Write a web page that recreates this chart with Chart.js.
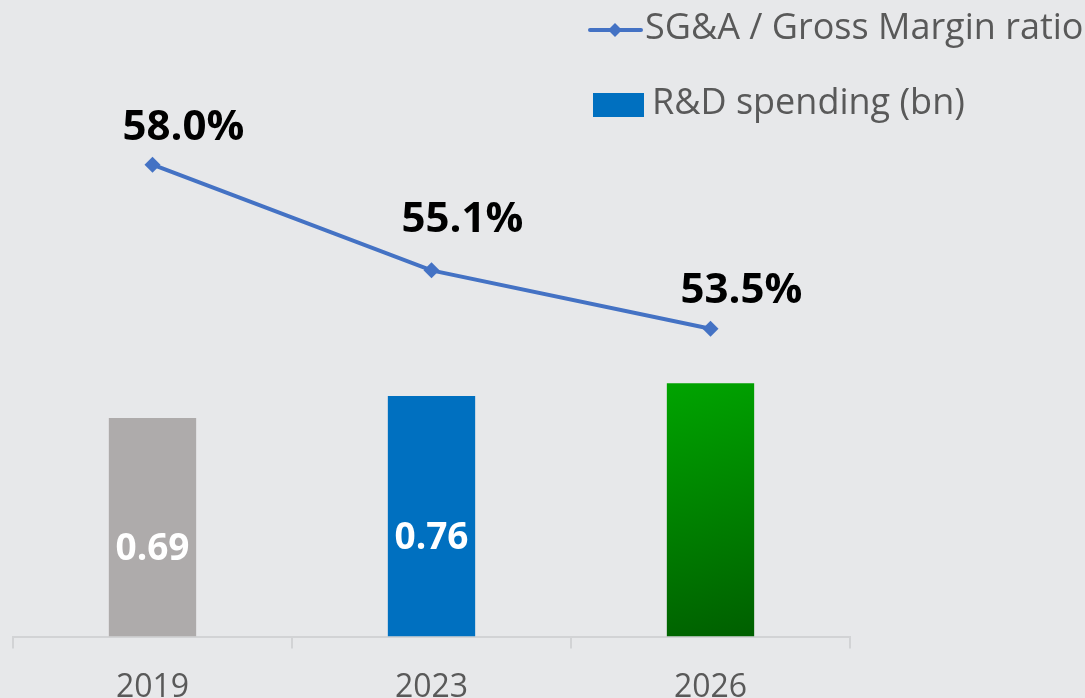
<!DOCTYPE html>
<html>
<head>
<meta charset="utf-8">
<script src="https://cdn.jsdelivr.net/npm/chart.js@4.4.1/dist/chart.umd.min.js"></script>
<style>
  html, body { margin: 0; padding: 0; background: #e7e8ea; overflow: hidden; }
  #wrap { width: 1085px; height: 727px; position: relative; }
</style>
</head>
<body>
<div id="wrap"><canvas id="chart"></canvas></div>
<script>
const years = ["2019", "2023", "2026"];
const rdSpending = [0.69, 0.76, 0.80];
const rdLabels = ["0.69", "0.76", ""];
const sgaRatio = [58.0, 55.1, 53.5];
const sgaLabels = ["58.0%", "55.1%", "53.5%"];

const palette = {
  bg: "#e7e8ea",
  line: "#4472C4",
  grey: "#AEABAB",
  blue: "#0070C0",
  greenTop: "#00A300",
  greenBottom: "#006000",
  axis: "#d2d3d5",
  text: "#595959",
};

const FONT = "'Open Sans', sans-serif";

// green bar gets a diagonal gradient, the others are flat
function barColor(context) {
  const i = context.dataIndex;
  if (i === 0) return palette.grey;
  if (i === 1) return palette.blue;
  const chart = context.chart;
  if (!chart.chartArea) return palette.greenTop;
  const x = chart.scales.x.getPixelForValue(i);
  const top = chart.scales.y.getPixelForValue(rdSpending[i]);
  const base = chart.scales.y.getPixelForValue(0);
  const g = chart.ctx.createLinearGradient(x - 30, top, x + 30, base);
  g.addColorStop(0, palette.greenTop);
  g.addColorStop(1, palette.greenBottom);
  return g;
}

const valueLabels = {
  id: "valueLabels",
  afterDatasetsDraw(chart) {
    const { ctx } = chart;
    ctx.save();
    ctx.textAlign = "center";
    ctx.textBaseline = "middle";

    // bar values, white inside the bar
    const barMeta = chart.getDatasetMeta(0);
    ctx.fillStyle = "#ffffff";
    ctx.font = `700 37px ${FONT}`;
    barMeta.data.forEach((bar, i) => {
      if (!rdLabels[i]) return;
      ctx.fillText(rdLabels[i], bar.x, (bar.y + bar.base) / 2 + 22);
    });

    // ratio values above the line points
    const lineMeta = chart.getDatasetMeta(1);
    const dy = [-37, -50, -38];
    ctx.fillStyle = "#000000";
    ctx.font = `700 42px ${FONT}`;
    lineMeta.data.forEach((pt, i) => {
      ctx.fillText(sgaLabels[i], pt.x + 31, pt.y + dy[i]);
    });
    ctx.restore();
  }
};

const cornerLegend = {
  id: "cornerLegend",
  afterDraw(chart) {
    const { ctx } = chart;
    ctx.save();
    ctx.textAlign = "left";
    ctx.textBaseline = "middle";
    ctx.font = `400 36px ${FONT}`;

    // line entry
    ctx.strokeStyle = palette.line;
    ctx.lineWidth = 4;
    ctx.lineCap = "round";
    ctx.beginPath();
    ctx.moveTo(590, 30);
    ctx.lineTo(641, 30);
    ctx.stroke();
    ctx.fillStyle = palette.line;
    ctx.beginPath();
    ctx.moveTo(615, 23);
    ctx.lineTo(622, 30);
    ctx.lineTo(615, 37);
    ctx.lineTo(608, 30);
    ctx.closePath();
    ctx.fill();
    ctx.fillStyle = palette.text;
    ctx.fillText("SG&A / Gross Margin ratio", 645, 29);

    // bar entry
    ctx.fillStyle = palette.blue;
    ctx.fillRect(593, 93, 51, 24);
    ctx.fillStyle = palette.text;
    ctx.fillText("R&D spending (bn)", 652, 104);
    ctx.restore();
  }
};

new Chart(document.getElementById("chart").getContext("2d"), {
  type: "bar",
  data: {
    labels: years,
    datasets: [
      {
        type: "bar",
        label: "R&D spending (bn)",
        data: rdSpending,
        backgroundColor: barColor,
        borderWidth: 0,
        yAxisID: "y",
        categoryPercentage: 1,
        barPercentage: 0.313,
        order: 2,
      },
      {
        type: "line",
        label: "SG&A / Gross Margin ratio",
        data: sgaRatio,
        borderColor: palette.line,
        backgroundColor: palette.line,
        borderWidth: 4,
        pointStyle: "rectRot",
        pointRadius: 8,
        pointBackgroundColor: palette.line,
        pointBorderWidth: 0,
        tension: 0,
        yAxisID: "y1",
        order: 1,
      }
    ]
  },
  plugins: [valueLabels, cornerLegend],
  options: {
    responsive: true,
    maintainAspectRatio: false,
    animation: false,
    layout: { padding: { top: 4, left: 13, right: 235, bottom: 0 } },
    plugins: {
      legend: { display: false },
      tooltip: { enabled: false },
    },
    scales: {
      x: {
        grid: {
          offset: true,
          drawOnChartArea: false,
          drawTicks: true,
          tickLength: 12,
          color: palette.axis,
          lineWidth: 2,
        },
        border: { display: true, color: palette.axis, width: 2 },
        ticks: {
          color: palette.text,
          padding: 20,
          font: { family: FONT, size: 32 },
        },
      },
      y: { display: false, min: 0, max: 1.985 },
      y1: { display: false, min: 45.05, max: 62.3 },
    }
  }
});
</script>
</body>
</html>
